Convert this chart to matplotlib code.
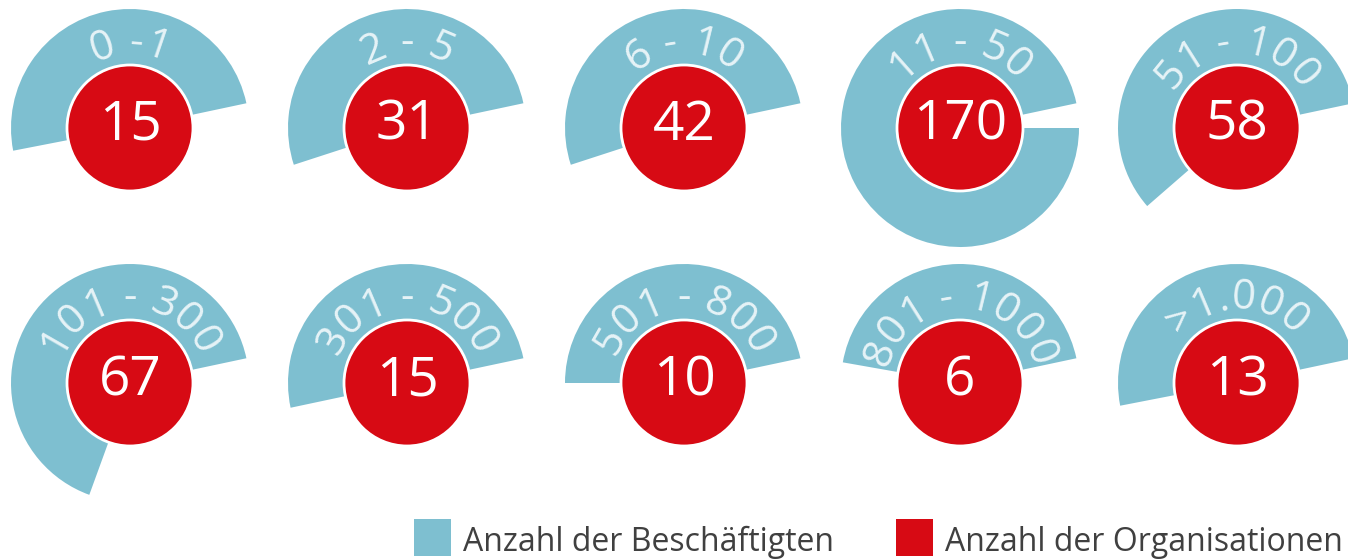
import numpy as np
import matplotlib
matplotlib.use("Agg")
import matplotlib.pyplot as plt
from matplotlib.patches import Wedge, Circle, Rectangle
from matplotlib.textpath import TextToPath
from matplotlib.font_manager import FontProperties

# Daten
klassen = ["0 -1", "2 - 5", "6 - 10", "11 - 50", "51 - 100",
           "101 - 300", "301 - 500", "501 - 800", "801 - 1000", ">1.000"]
organisationen = [15, 31, 42, 170, 58, 67, 15, 10, 6, 13]
# Endwinkel des blauen Bogens in Grad (alle Bögen beginnen bei ca. 12°)
beschaeftigte_winkel = [191, 198, 198, 360, 221, 250, 192, 180, 170, 191]
legende = ["Anzahl der Beschäftigten", "Anzahl der Organisationen"]

W, H = 1348, 559
BLAU = "#7ebfd0"
ROT = "#d70a14"
FONT = "Open Sans"

fig = plt.figure(figsize=(W / 100, H / 100), dpi=100)
ax = fig.add_axes([0, 0, 1, 1])
ax.set_xlim(0, W)
ax.set_ylim(0, H)
ax.set_aspect("equal")
ax.axis("off")

spalten_x = [130, 407, 684, 960, 1237]
zeilen_y = [431, 176]
R_AUSSEN = 119
R_ROT = 63
R_TEXT = 74  # Grundlinie der gebogenen Beschriftung
START = 12

t2p = TextToPath()


def px2pt(px):
    return px * 72 / 100


def zeichen_breite(c, fp):
    w1 = t2p.get_text_width_height_descent("x" + c + "x", fp, ismath=False)[0]
    w0 = t2p.get_text_width_height_descent("xx", fp, ismath=False)[0]
    return w1 - w0


def bogen_text(cx, cy, text, r, size_px, color):
    fp = FontProperties(family=FONT, size=size_px)
    breiten = [zeichen_breite(c, fp) for c in text]
    gesamt = sum(breiten)
    pos = 0
    for c, w in zip(text, breiten):
        s = pos + w / 2 - gesamt / 2
        pos += w
        if c == " ":
            continue
        ang = 90 - np.degrees(s / r)
        x = cx + r * np.cos(np.radians(ang))
        y = cy + r * np.sin(np.radians(ang))
        ax.text(x, y, c, rotation=ang - 90, rotation_mode="anchor",
                ha="center", va="baseline", color=color,
                fontsize=px2pt(size_px), family=FONT, zorder=4)


for i, (kl, n, ende) in enumerate(zip(klassen, organisationen, beschaeftigte_winkel)):
    cx = spalten_x[i % 5]
    cy = zeilen_y[i // 5]
    ax.add_patch(Wedge((cx, cy), R_AUSSEN, START, ende, facecolor=BLAU,
                       edgecolor="none", zorder=1))
    ax.add_patch(Circle((cx, cy), R_ROT, facecolor=ROT, edgecolor="white",
                        linewidth=2.0, zorder=3))
    bogen_text(cx, cy, kl, R_TEXT, 42, "#e6f3f7")
    ax.text(cx, cy - 12, str(n), ha="center", va="baseline", color="white",
            fontsize=px2pt(55), family=FONT, zorder=5)

# Legende
for j, (lx, farbe) in enumerate([(414, BLAU), (896, ROT)]):
    ax.add_patch(Rectangle((lx, 3), 37, 37, facecolor=farbe, edgecolor="none"))
    ax.text(lx + 49, 8, legende[j], ha="left", va="baseline", color="#404040",
            fontsize=px2pt(32), family=FONT)

fig.savefig("out.png", dpi=100)
